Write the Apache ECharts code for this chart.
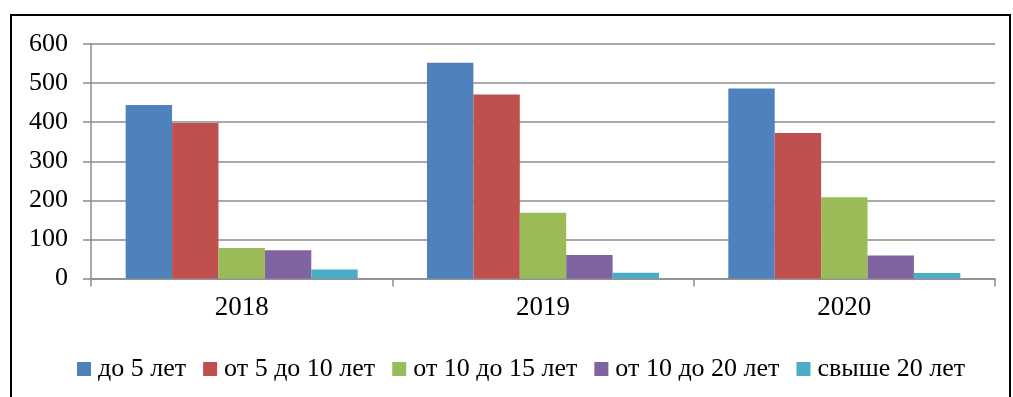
<!DOCTYPE html>
<html>
<head>
<meta charset="utf-8">
<script src="https://cdn.jsdelivr.net/npm/echarts@6/dist/echarts.min.js"></script>
<style>
  html, body { margin: 0; padding: 0; background: #fff; }
  #frame { position: absolute; left: 10px; top: 14px; width: 1001px; height: 400px;
           border-left: 2px solid #000; border-top: 2px solid #000; border-right: 2px solid #000; box-sizing: border-box; }
  #chart { position: absolute; left: 0; top: 0; width: 1013px; height: 397px; }
</style>
</head>
<body>
<div id="frame"></div>
<div id="chart"></div>
<script>
// Years on the category axis
const years = ['2018', '2019', '2020'];
// Series names (length of service groups)
const seriesNames = ['до 5 лет', 'от 5 до 10 лет', 'от 10 до 15 лет', 'от 10 до 20 лет', 'свыше 20 лет'];
// Values per group, one entry per year
const upTo5 = [444, 552, 486];
const from5to10 = [398, 471, 372];
const from10to15 = [78, 168, 208];
const from10to20 = [72, 60, 59];
const over20 = [23, 15, 14];
// Value axis ticks
const yMin = 0, yMax = 600, yStep = 100;

const colors = ['#4F81BD', '#C0504D', '#9BBB59', '#8064A2', '#4BACC6'];
const seriesData = [upTo5, from5to10, from10to15, from10to20, over20];
const font = '"Liberation Serif", "Times New Roman", serif';

const chart = echarts.init(document.getElementById('chart'), null, { renderer: 'canvas' });
chart.setOption({
  animation: false,
  textStyle: { fontFamily: font },
  grid: { left: 91, right: 18, top: 44, bottom: 118.5, containLabel: false },
  legend: {
    data: seriesNames,
    top: 351,
    left: 72,
    itemWidth: 14,
    itemHeight: 14,
    itemGap: 17,
    icon: 'rect',
    textStyle: { fontFamily: font, fontSize: 26, color: '#000', padding: [0, 0, 0, 2] }
  },
  xAxis: {
    type: 'category',
    data: years,
    axisLine: { lineStyle: { color: '#8c8c8c', width: 1.5 } },
    axisTick: { show: true, length: 8, lineStyle: { color: '#8c8c8c', width: 1.5 } },
    axisLabel: { fontFamily: font, fontSize: 27, color: '#000', margin: 16 }
  },
  yAxis: {
    type: 'value',
    min: yMin, max: yMax, interval: yStep,
    axisLine: { show: true, lineStyle: { color: '#8c8c8c', width: 1.5 } },
    axisTick: { show: true, inside: false, length: 8, lineStyle: { color: '#8c8c8c', width: 1.5 } },
    splitLine: { lineStyle: { color: '#8c8c8c', width: 1.5 } },
    axisLabel: { fontFamily: font, fontSize: 26, color: '#000', margin: 23 }
  },
  series: seriesNames.map((name, i) => ({
    name,
    type: 'bar',
    data: seriesData[i],
    barGap: '0%',
    barCategoryGap: '23%',
    itemStyle: { color: colors[i] }
  }))
});
</script>
</body>
</html>
